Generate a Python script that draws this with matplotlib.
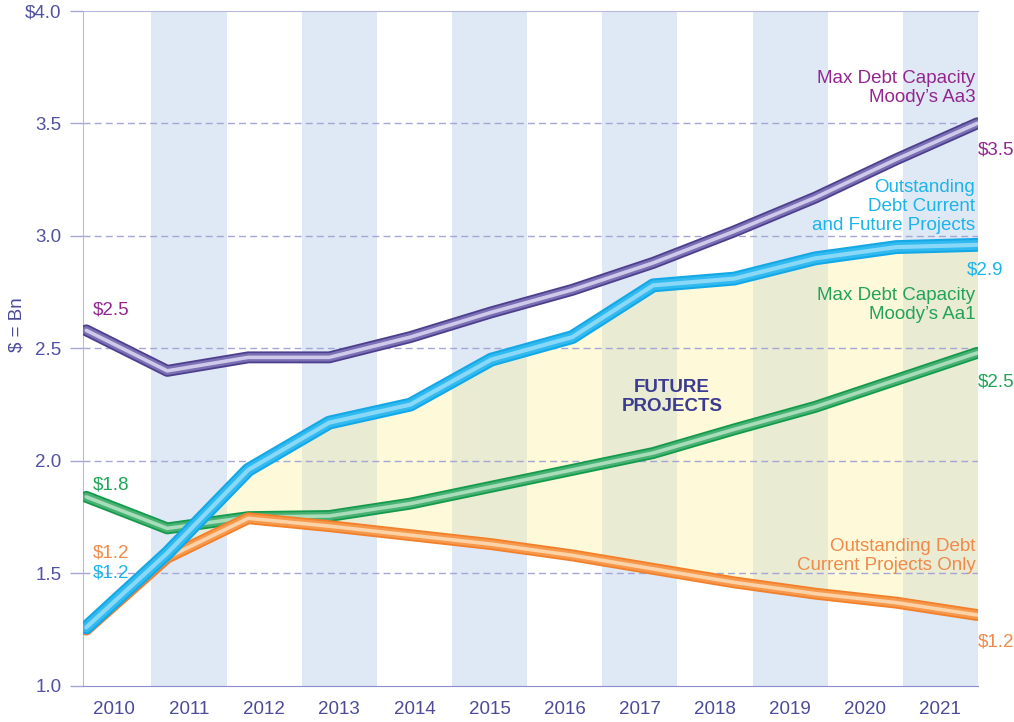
import numpy as np
import matplotlib
matplotlib.use("Agg")
import matplotlib.pyplot as plt

plt.rcParams['font.family'] = ['Liberation Sans', 'DejaVu Sans']

# data
years = [2010, 2011, 2012, 2013, 2014, 2015, 2016, 2017, 2018, 2019, 2020, 2021]
aa3_capacity = [2.58, 2.40, 2.46, 2.46, 2.55, 2.66, 2.76, 2.88, 3.02, 3.17, 3.34, 3.50]
debt_current_future = [1.26, 1.59, 1.96, 2.17, 2.25, 2.45, 2.55, 2.78, 2.81, 2.90, 2.95, 2.96]
aa1_capacity = [1.84, 1.70, 1.75, 1.755, 1.81, 1.885, 1.96, 2.035, 2.14, 2.24, 2.36, 2.48]
debt_current_only = [1.25, 1.57, 1.745, 1.71, 1.67, 1.63, 1.58, 1.52, 1.46, 1.41, 1.37, 1.315]
yticks = [1.0, 1.5, 2.0, 2.5, 3.0, 3.5, 4.0]
ytick_labels = ["1.0", "1.5", "2.0", "2.5", "3.0", "3.5", "$4.0"]

TXT = "#4b4b98"
GRID = "#a6a6d6"
BAND = "#dfe8f5"

fig = plt.figure(figsize=(10.14, 7.22), dpi=100)
ax = fig.add_axes([0.0819, 0.050, 0.8826, 0.935])

# alternate shaded year columns
for y in years[1::2]:
    ax.axvspan(y - 0.5, y + 0.5, color=BAND, lw=0, zorder=0)
ax.set_xlim(2009.59, 2021.5)
ax.set_xticks(years)
ax.set_xticklabels([str(y) for y in years])
ax.tick_params(axis='x', length=0, pad=11, labelsize=13.5, labelcolor=TXT)
ax.set_ylim(1.0, 4.0)
ax.set_yticks(yticks)
ax.set_yticklabels(ytick_labels)
ax.tick_params(axis='y', length=9.5, width=1, color=GRID, pad=6,
               labelsize=13.5, labelcolor="#5252a2")
for s in ['left', 'top']:
    ax.spines[s].set_color("#b8b8dc")
ax.spines['bottom'].set_color("#8c8cd0")
ax.spines['right'].set_visible(False)
ax.set_ylabel("$ = Bn", fontsize=13.5, color=TXT)
ax.yaxis.set_label_coords(-0.064, 0.535)

# lines on a twin x axis (points spread over full width)
ax2 = ax.twiny()
x = np.arange(len(years))
ax2.set_xlim(-0.04, 11.01)
ax2.set_xticks([])
for s in ax2.spines.values():
    s.set_visible(False)

for v in yticks[1:-1]:
    ax2.axhline(v, color=GRID, lw=1, ls=(0, (5, 3)), zorder=0.5)

cf = np.array(debt_current_future)
co = np.array(debt_current_only)
ax2.fill_between(x, co, cf, where=cf >= co, interpolate=True,
                 color="#faf0a0", alpha=0.4, lw=0, zorder=0.3)


def tube(vals, cols, w, z):
    # dark rim, mid body, light highlight
    for c, f in zip(cols, (1.0, 0.7, 0.3)):
        ax2.plot(x, vals, color=c, lw=w * f, solid_capstyle='round',
                 solid_joinstyle='round', zorder=z)
        z += 0.1


tube(aa1_capacity, ("#149a4c", "#48b274", "#a9dcb9"), 8.6, 2)
tube(debt_current_only, ("#f2802a", "#f7994c", "#fcd3a8"), 8.6, 3)
tube(aa3_capacity, ("#4e3f8e", "#7a70b4", "#cfcaea"), 8.6, 4)
tube(debt_current_future, ("#14a8e6", "#30baf0", "#8ad8f8"), 10.0, 5)

PUR = "#93278f"
CYA = "#1cb4ec"
GRN = "#22a458"
ORG = "#f08a4a"
fs = 13.5
tr = ax2.transAxes
ax2.text(0.997, 0.886, "Max Debt Capacity\nMoody’s Aa3", color=PUR, fontsize=fs,
         ha='right', va='center', transform=tr, linespacing=1.15)
ax2.text(1.0, 0.794, "$3.5", color=PUR, fontsize=fs, ha='left', va='center', transform=tr)
ax2.text(0.997, 0.710, "Outstanding\nDebt Current\nand Future Projects", color=CYA,
         fontsize=fs, ha='right', va='center', transform=tr, linespacing=1.15)
ax2.text(0.988, 0.616, "$2.9", color=CYA, fontsize=fs, ha='left', va='center', transform=tr)
ax2.text(0.997, 0.564, "Max Debt Capacity\nMoody’s Aa1", color=GRN, fontsize=fs,
         ha='right', va='center', transform=tr, linespacing=1.15)
ax2.text(1.0, 0.450, "$2.5", color=GRN, fontsize=fs, ha='left', va='center', transform=tr)
ax2.text(0.997, 0.193, "Outstanding Debt\nCurrent Projects Only", color=ORG, fontsize=fs,
         ha='right', va='center', transform=tr, linespacing=1.15)
ax2.text(1.0, 0.065, "$1.2", color=ORG, fontsize=fs, ha='left', va='center', transform=tr)
ax2.text(0.011, 0.557, "$2.5", color=PUR, fontsize=fs, ha='left', va='center', transform=tr)
ax2.text(0.011, 0.298, "$1.8", color=GRN, fontsize=fs, ha='left', va='center', transform=tr)
ax2.text(0.011, 0.197, "$1.2", color=ORG, fontsize=fs, ha='left', va='center', transform=tr)
ax2.text(0.011, 0.167, "$1.2", color=CYA, fontsize=fs, ha='left', va='center', transform=tr)
ax2.text(0.658, 0.428, "FUTURE\nPROJECTS", color="#3b3b8f", fontsize=13.5, fontweight='bold',
         ha='center', va='center', transform=tr, linespacing=1.1)

fig.savefig("out.png", dpi=100)
